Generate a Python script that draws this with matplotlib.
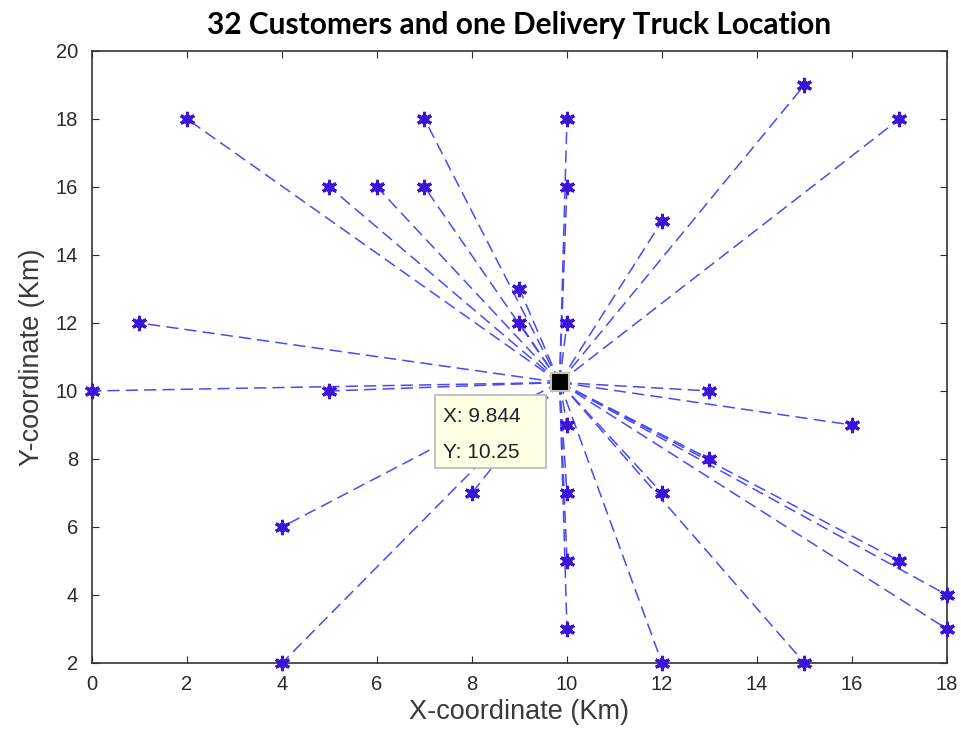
import matplotlib
matplotlib.use("Agg")
import matplotlib.pyplot as plt
from matplotlib.patches import Rectangle

cust_x = [2, 7, 10, 15, 17, 5, 6, 7, 10, 12, 9, 1, 9, 10, 0, 5, 13, 16, 10, 8, 13, 12, 10, 4, 10, 17, 18, 10, 18, 4, 12, 15]
cust_y = [18, 18, 18, 19, 18, 16, 16, 16, 16, 15, 13, 12, 12, 12, 10, 10, 10, 9, 9, 7, 8, 7, 7, 6, 5, 5, 4, 3, 3, 2, 2, 2]
truck_x = 9.844
truck_y = 10.25
x_ticks = [0, 2, 4, 6, 8, 10, 12, 14, 16, 18]
y_ticks = [2, 4, 6, 8, 10, 12, 14, 16, 18, 20]

plt.rcParams['font.family'] = ['Liberation Sans', 'DejaVu Sans']

fig = plt.figure(figsize=(9.62, 7.44), dpi=100)
ax = fig.add_axes([0.0956, 0.1089, 0.8888, 0.8226])

for cx, cy in zip(cust_x, cust_y):
    ax.plot([truck_x, cx], [truck_y, cy], linestyle=(0, (8, 4)), color='#4a4af5', lw=1.1, zorder=2)

ax.plot(cust_x, cust_y, linestyle='none', marker='o', ms=6, color='#3a14d8', zorder=3, clip_on=False)
ax.plot(cust_x, cust_y, linestyle='none', marker=(6, 2, 0), ms=11, mew=2.2, color='#3a14d8', zorder=3, clip_on=False)
ax.plot([truck_x], [truck_y], linestyle='none', marker='s', ms=13, mfc='black', mec='#c8c4a8', mew=1.5, zorder=5)

# data tip
ax.add_patch(Rectangle((7.22, 7.74), 2.34, 2.14, fc='#ffffe6', ec='#b8b8b8', lw=1.2, zorder=6))
ax.text(7.39, 9.24, 'X: 9.844', fontsize=15, color='#222222', va='center', ha='left', zorder=7)
ax.text(7.39, 8.18, 'Y: 10.25', fontsize=15, color='#222222', va='center', ha='left', zorder=7)

ax.set_xlim(0, 18)
ax.set_ylim(2, 20)
ax.set_xticks(x_ticks)
ax.set_yticks(y_ticks)
ax.tick_params(direction='in', top=True, right=True, length=5, labelsize=14.5, colors='#2a2a2a')
ax.tick_params(axis='y', pad=10)
ax.tick_params(axis='x', pad=9)
for s in ax.spines.values():
    s.set_color('#333333')
    s.set_linewidth(1.2)
ax.set_xlabel('X-coordinate (Km)', fontsize=19.5, color='#3a3a3a', labelpad=3)
ax.set_ylabel('Y-coordinate (Km)', fontsize=19.5, color='#3a3a3a', labelpad=8)
ax.set_title('32 Customers and one Delivery Truck Location', fontsize=21.5, fontweight='bold',
             family=['Lato', 'DejaVu Sans'], pad=12)

fig.savefig('out.png', dpi=100)
